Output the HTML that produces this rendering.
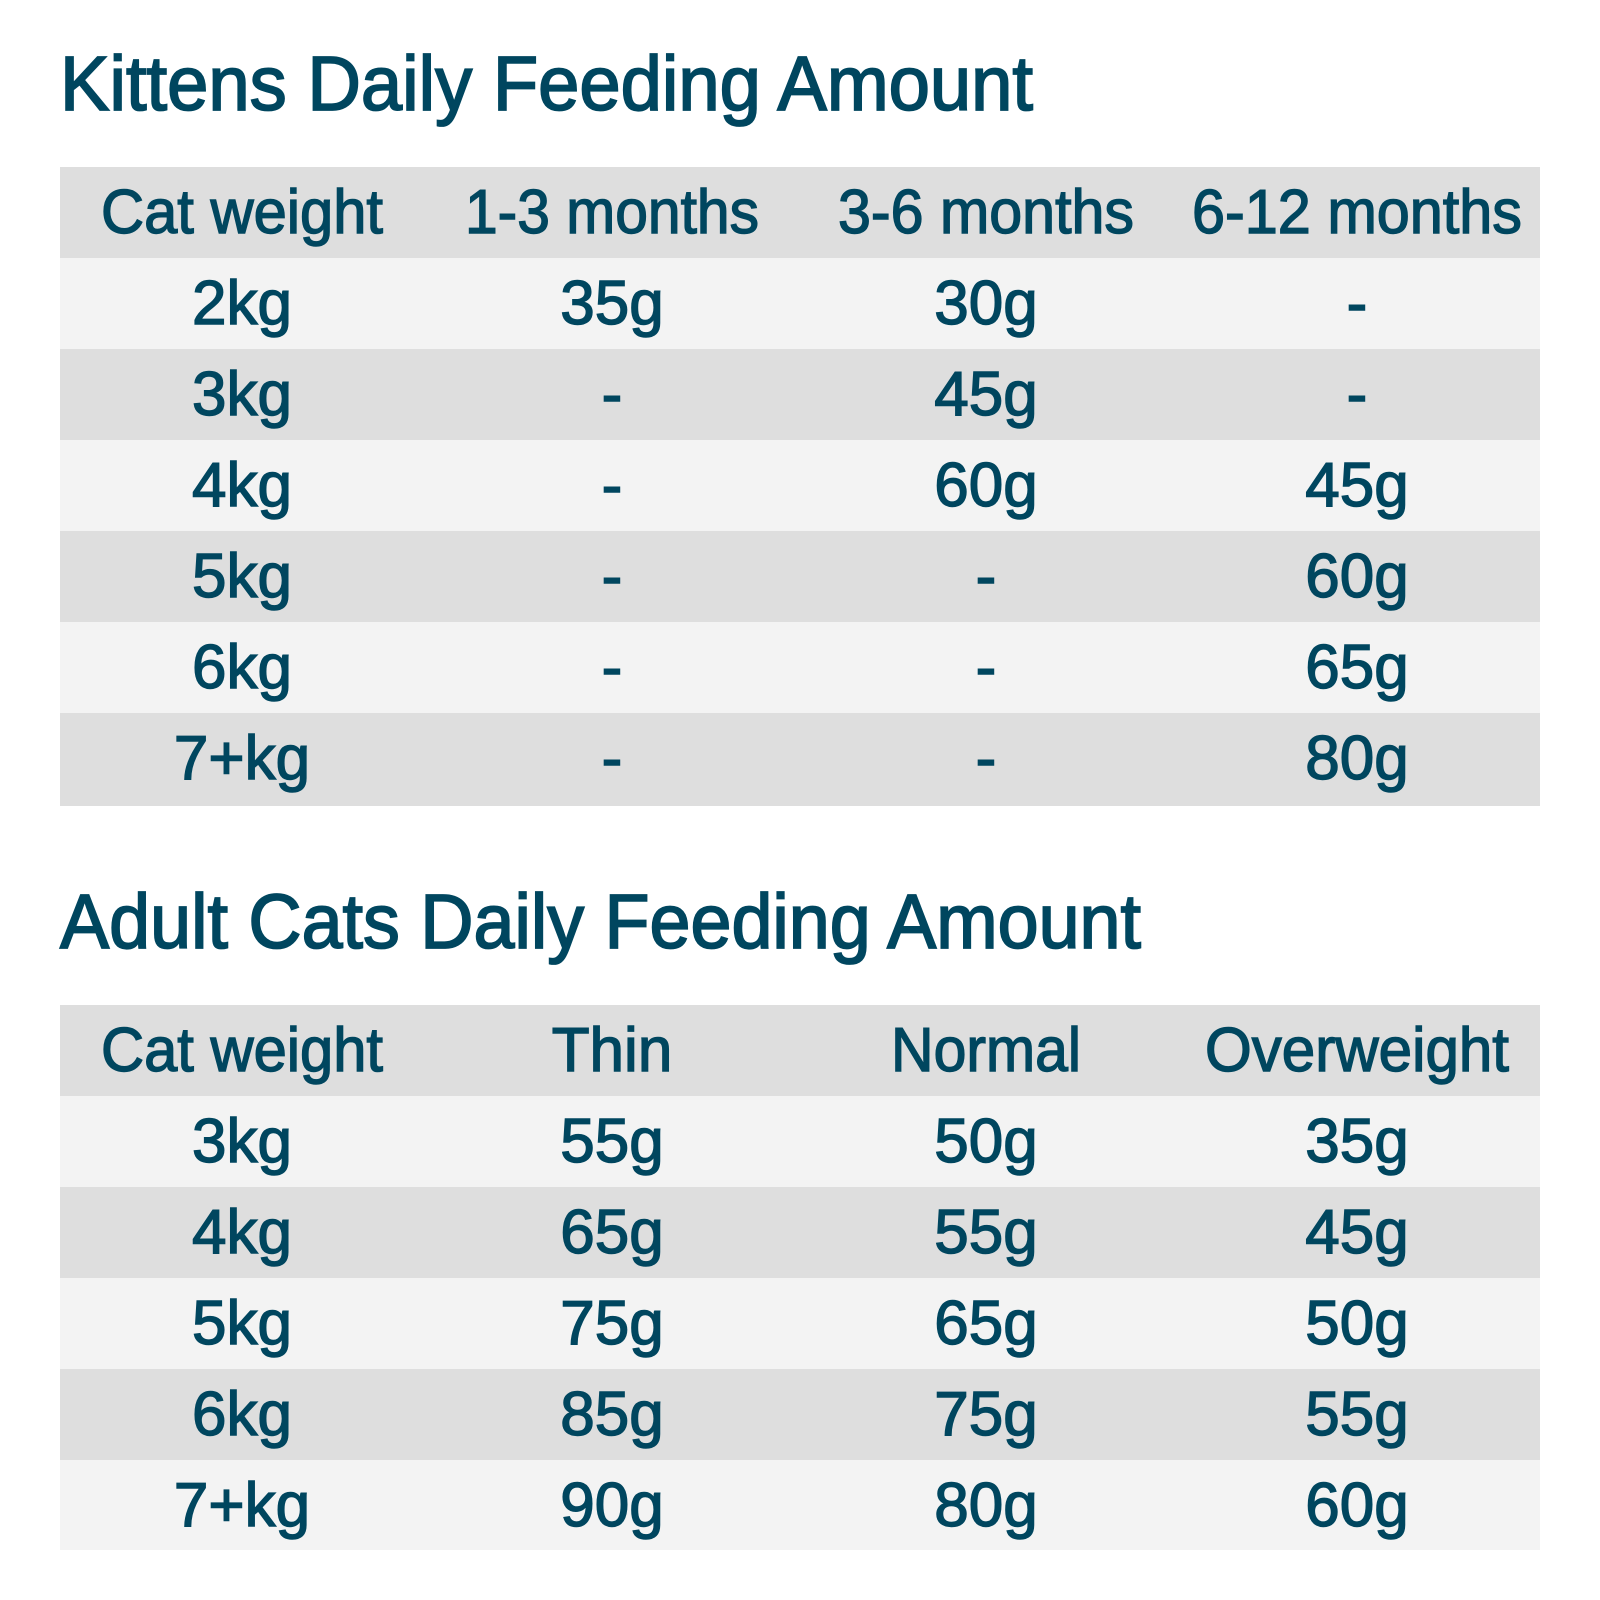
<!DOCTYPE html>
<html><head><meta charset="utf-8"><style>
html,body{margin:0;padding:0;background:#fff;width:1600px;height:1600px;overflow:hidden}
svg text{font-family:"Liberation Sans",sans-serif;fill:#00465f}
.t{font-size:77px;stroke:#00465f;stroke-width:1.8}
.c{font-size:62px;text-anchor:middle;stroke:#00465f;stroke-width:1.4}
</style></head><body>
<svg width="1600" height="1600" xmlns="http://www.w3.org/2000/svg">
<text class="t" x="60" y="110" textLength="973" lengthAdjust="spacingAndGlyphs">Kittens Daily Feeding Amount</text>
<rect x="60" y="167" width="1480" height="91" fill="#dedede"/>
<rect x="60" y="258" width="1480" height="91" fill="#f3f3f3"/>
<rect x="60" y="349" width="1480" height="91" fill="#dedede"/>
<rect x="60" y="440" width="1480" height="91" fill="#f3f3f3"/>
<rect x="60" y="531" width="1480" height="91" fill="#dedede"/>
<rect x="60" y="622" width="1480" height="91" fill="#f3f3f3"/>
<rect x="60" y="713" width="1480" height="93" fill="#dedede"/>
<text class="c" x="242" y="233" textLength="282" lengthAdjust="spacingAndGlyphs">Cat weight</text>
<text class="c" x="612" y="233" textLength="294" lengthAdjust="spacingAndGlyphs">1-3 months</text>
<text class="c" x="986" y="233" textLength="296" lengthAdjust="spacingAndGlyphs">3-6 months</text>
<text class="c" x="1357" y="233" textLength="330" lengthAdjust="spacingAndGlyphs">6-12 months</text>
<text class="c" x="242" y="324">2kg</text><text class="c" x="612" y="324">35g</text><text class="c" x="986" y="324">30g</text><text class="c" x="1357" y="324">-</text>
<text class="c" x="242" y="415">3kg</text><text class="c" x="612" y="415">-</text><text class="c" x="986" y="415">45g</text><text class="c" x="1357" y="415">-</text>
<text class="c" x="242" y="506">4kg</text><text class="c" x="612" y="506">-</text><text class="c" x="986" y="506">60g</text><text class="c" x="1357" y="506">45g</text>
<text class="c" x="242" y="597">5kg</text><text class="c" x="612" y="597">-</text><text class="c" x="986" y="597">-</text><text class="c" x="1357" y="597">60g</text>
<text class="c" x="242" y="688">6kg</text><text class="c" x="612" y="688">-</text><text class="c" x="986" y="688">-</text><text class="c" x="1357" y="688">65g</text>
<text class="c" x="242" y="779">7+kg</text><text class="c" x="612" y="779">-</text><text class="c" x="986" y="779">-</text><text class="c" x="1357" y="779">80g</text>
<text class="t" x="60" y="948" textLength="1081" lengthAdjust="spacingAndGlyphs">Adult Cats Daily Feeding Amount</text>
<rect x="60" y="1005" width="1480" height="91" fill="#dedede"/>
<rect x="60" y="1096" width="1480" height="91" fill="#f3f3f3"/>
<rect x="60" y="1187" width="1480" height="91" fill="#dedede"/>
<rect x="60" y="1278" width="1480" height="91" fill="#f3f3f3"/>
<rect x="60" y="1369" width="1480" height="91" fill="#dedede"/>
<rect x="60" y="1460" width="1480" height="90" fill="#f3f3f3"/>
<text class="c" x="242" y="1071" textLength="282" lengthAdjust="spacingAndGlyphs">Cat weight</text>
<text class="c" x="612" y="1071">Thin</text>
<text class="c" x="986" y="1071" textLength="190" lengthAdjust="spacingAndGlyphs">Normal</text>
<text class="c" x="1357" y="1071" textLength="304" lengthAdjust="spacingAndGlyphs">Overweight</text>
<text class="c" x="242" y="1162">3kg</text><text class="c" x="612" y="1162">55g</text><text class="c" x="986" y="1162">50g</text><text class="c" x="1357" y="1162">35g</text>
<text class="c" x="242" y="1253">4kg</text><text class="c" x="612" y="1253">65g</text><text class="c" x="986" y="1253">55g</text><text class="c" x="1357" y="1253">45g</text>
<text class="c" x="242" y="1344">5kg</text><text class="c" x="612" y="1344">75g</text><text class="c" x="986" y="1344">65g</text><text class="c" x="1357" y="1344">50g</text>
<text class="c" x="242" y="1435">6kg</text><text class="c" x="612" y="1435">85g</text><text class="c" x="986" y="1435">75g</text><text class="c" x="1357" y="1435">55g</text>
<text class="c" x="242" y="1526">7+kg</text><text class="c" x="612" y="1526">90g</text><text class="c" x="986" y="1526">80g</text><text class="c" x="1357" y="1526">60g</text>
</svg>
</body></html>
